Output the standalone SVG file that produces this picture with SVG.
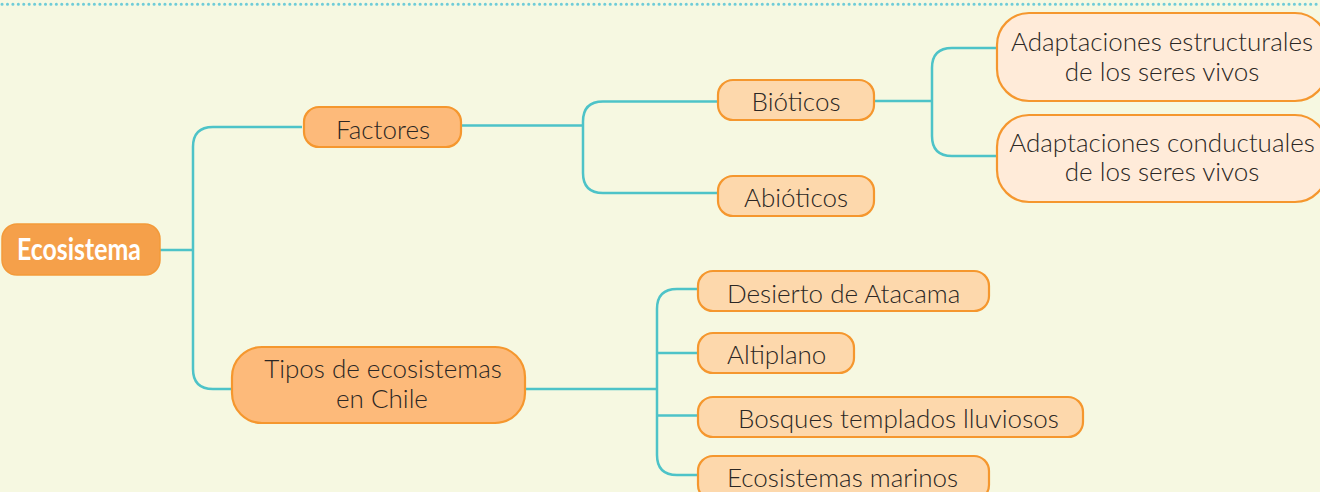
<svg xmlns="http://www.w3.org/2000/svg" width="1320" height="492" viewBox="0 0 1320 492">
<style>
.bg{fill:#F6F8E1}
.dots{stroke:#6FCCD8;stroke-width:3;stroke-linecap:round;stroke-dasharray:0.1 5.33;fill:none}
.c{fill:none;stroke:#4DC3C8;stroke-width:2.5}
.n{stroke:#F5972E;stroke-width:2.2}
.l1{fill:#FDBA7A}
.l2{fill:#FDD8AC}
.l3{fill:#FFEBD9}
.t{font-family:Lato,"Liberation Sans",sans-serif;font-weight:300;font-size:26px;fill:#2B2724}
.tm{text-anchor:middle}
.root{fill:#F5A04A;stroke:#F39A3A;stroke-width:1.5}
.rt{font-family:Lato,"Liberation Sans",sans-serif;font-weight:bold;font-size:30px;fill:#FFFFFF}
</style>
<rect class="bg" x="0" y="0" width="1320" height="492"/>
<line class="dots" x1="2" y1="4.3" x2="1320" y2="4.3"/>
<g id="connectors">
<path class="c" d="M160,250 H193"/>
<path class="c" d="M302,127 H213 Q193,127 193,147 V369 Q193,389 213,389 H232"/>
<path class="c" d="M461,125.5 H583"/>
<path class="c" d="M718,101.5 H603 Q583,101.5 583,121.5 V173 Q583,193 603,193 H718"/>
<path class="c" d="M874,101 H932"/>
<path class="c" d="M997,48 H952 Q932,48 932,68 V136 Q932,156 952,156 H997"/>
<path class="c" d="M525,389 H657"/>
<path class="c" d="M698,289 H677 Q657,289 657,309 V455 Q657,475 677,475 H698"/>
<path class="c" d="M657,353 H698"/>
<path class="c" d="M657,415.5 H698"/>
</g>
<g id="ecosistema">
<rect class="root" x="2" y="224" width="158" height="51" rx="15"/>
<text class="rt tm" x="79" y="260" textLength="124" lengthAdjust="spacingAndGlyphs">Ecosistema</text>
</g>
<g id="factores">
<rect class="n l1" x="304" y="107" width="157" height="40" rx="15"/>
<text class="t tm" x="383" y="139">Factores</text>
</g>
<g id="bioticos">
<rect class="n l2" x="718" y="80" width="156" height="40" rx="15"/>
<text class="t tm" x="796" y="111">Bióticos</text>
</g>
<g id="abioticos">
<rect class="n l2" x="718" y="176" width="156" height="40" rx="15"/>
<text class="t tm" x="796" y="207">Abióticos</text>
</g>
<g id="estructurales">
<rect class="n l3" x="997" y="13" width="330" height="88" rx="32"/>
<text class="t tm" x="1162" y="51">Adaptaciones estructurales</text>
<text class="t tm" x="1162" y="81">de los seres vivos</text>
</g>
<g id="conductuales">
<rect class="n l3" x="997" y="115" width="330" height="87" rx="32"/>
<text class="t tm" x="1162" y="152">Adaptaciones conductuales</text>
<text class="t tm" x="1162" y="181">de los seres vivos</text>
</g>
<g id="tipos">
<rect class="n l1" x="232" y="347" width="293" height="76" rx="30"/>
<text class="t tm" x="383" y="378">Tipos de ecosistemas</text>
<text class="t tm" x="382" y="408">en Chile</text>
</g>
<g id="atacama">
<rect class="n l2" x="698" y="271" width="291" height="40" rx="15"/>
<text class="t" x="727" y="303">Desierto de Atacama</text>
</g>
<g id="altiplano">
<rect class="n l2" x="698" y="333" width="156" height="40" rx="15"/>
<text class="t" x="727" y="364">Altiplano</text>
</g>
<g id="bosques">
<rect class="n l2" x="698" y="397" width="385" height="40" rx="15"/>
<text class="t" x="738" y="428">Bosques templados lluviosos</text>
</g>
<g id="marinos">
<rect class="n l2" x="698" y="456" width="291" height="44" rx="15"/>
<text class="t" x="727" y="487">Ecosistemas marinos</text>
</g>
</svg>
